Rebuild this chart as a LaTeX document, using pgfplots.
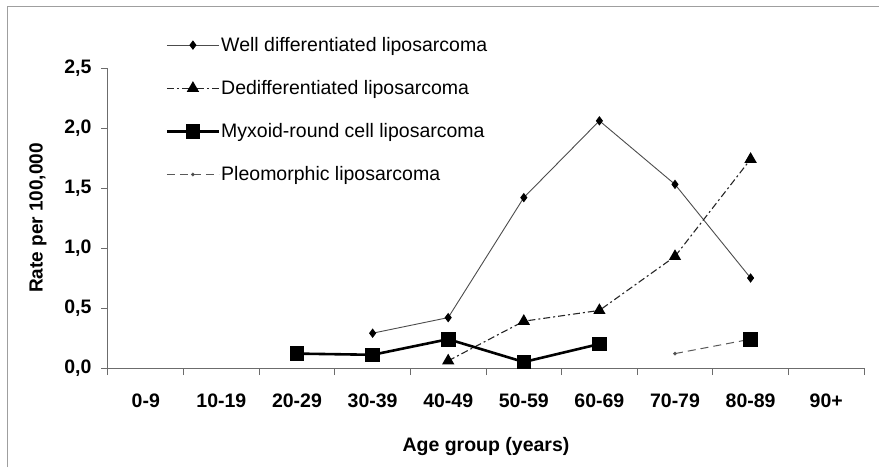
\documentclass[border=0pt]{standalone}
\usepackage{pgfplots}
\pgfplotsset{compat=1.18}
\usepackage{fontspec}
\setmainfont{Liberation Sans}
\begin{document}
\begin{tikzpicture}
\useasboundingbox (0pt,0pt) rectangle (879pt,467pt);
\draw[gray!75, line width=1.6pt] (7.5pt,0pt) -- (7.5pt,460.5pt) -- (879pt,460.5pt);
\begin{axis}[
  at={(108pt,99pt)}, anchor=south west, scale only axis,
  width=756pt, height=300pt,
  xmin=0, xmax=10, ymin=0, ymax=2.5,
  axis x line*=bottom, axis y line*=left,
  axis line style={-, draw=gray!85!black, line width=1pt},
  every tick/.style={draw=gray!85!black, line width=1pt},
  tick align=outside, major tick length=7pt,
  xtick={0,...,10},
  x tick label as interval=true,
  xticklabels={0-9,10-19,20-29,30-39,40-49,50-59,60-69,70-79,80-89,90+},
  ytick={0,0.5,...,2.5},
  /pgf/number format/.cd, assume math mode=true, use comma, fixed, fixed zerofill, precision=1,
  /pgfplots/.cd,
  tick label style={font=\bfseries\fontsize{19.5}{21}\selectfont},
  xticklabel style={yshift=-15pt},
  yticklabel style={xshift=-6pt},
  ylabel={Rate per 100,000},
  ylabel style={font=\bfseries\fontsize{19}{21}\selectfont, yshift=11pt},
  xlabel={Age group (years)},
  xlabel style={font=\bfseries\fontsize{19.5}{21}\selectfont, yshift=-23pt},
  clip=false,
  unbounded coords=jump,
  legend style={at={(rel axis cs:0.072,1.113)}, anchor=north west, draw=none, fill=none,
    font=\fontsize{19.5}{21}\selectfont, row sep=25.5pt, nodes={inner sep=1pt}},
  legend cell align=left,
  legend image code/.code={\draw[mark repeat=2,mark phase=2,#1] plot coordinates {(0pt,0pt) (26pt,0pt) (52pt,0pt)};},
]
\addplot[color=gray!60!black, line width=0.9pt, mark=diamond*, mark size=4pt,
  mark options={solid, fill=black, draw=black}]
  coordinates {(3.5,0.29) (4.5,0.42) (5.5,1.42) (6.5,2.06) (7.5,1.53) (8.5,0.75)};
\addlegendentry{Well differentiated liposarcoma}
\addplot[color=black!85, line width=1.1pt, dash pattern=on 7pt off 3pt on 2pt off 3pt,
  mark=triangle*, mark size=6pt, mark options={solid, fill=black, draw=black}]
  coordinates {(4.5,0.06) (5.5,0.39) (6.5,0.48) (7.5,0.93) (8.5,1.74)};
\addlegendentry{Dedifferentiated liposarcoma}
\addplot[forget plot, color=gray!70!black, line width=1pt, dash pattern=on 8pt off 5pt,
  mark=*, mark size=1.3pt, mark options={solid, fill=black}]
  coordinates {(7.5,0.12) (8.5,0.24)};
\addplot[color=black, line width=2.6pt, mark=square*, mark size=6pt,
  mark options={solid, fill=black}]
  coordinates {(2.5,0.12) (3.5,0.11) (4.5,0.24) (5.5,0.05) (6.5,0.2) (7.5,nan) (8.5,0.24)};
\addlegendentry{Myxoid-round cell liposarcoma}
\addlegendimage{color=gray!70!black, line width=1pt, dash pattern=on 8pt off 5pt,
  mark=*, mark size=1.3pt, mark options={solid, fill=black}}
\addlegendentry{Pleomorphic liposarcoma}
\end{axis}
\end{tikzpicture}
\end{document}
